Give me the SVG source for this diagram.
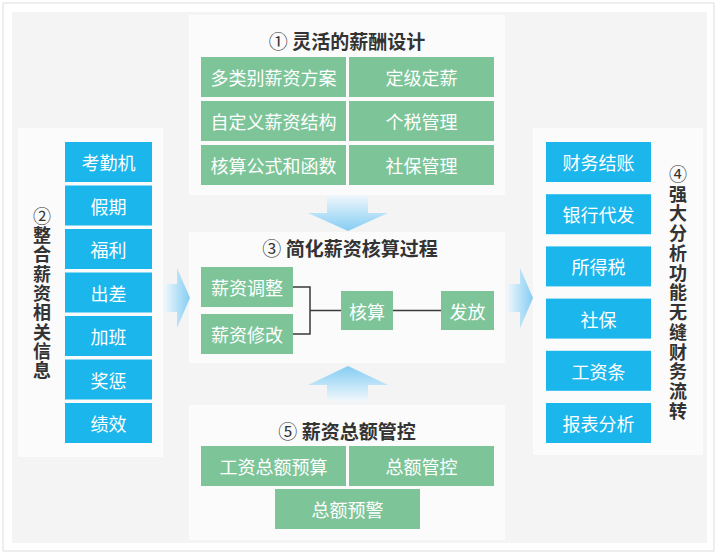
<svg xmlns="http://www.w3.org/2000/svg" width="720" height="557" viewBox="0 0 720 557">
<defs>
<style>
text{font-family:"Noto Sans CJK SC","Noto Sans",sans-serif;dominant-baseline:central;text-anchor:middle}
.panel{fill:#fbfbfb}
.g{fill:#7dc599}
.b{fill:#1bb6ec}
.ct{fill:#ffffff;font-size:18px}
.tt{fill:#333333;font-size:19px;font-weight:bold}
.num{font-weight:normal}
.vt{fill:#333333;font-size:18px;font-weight:bold;writing-mode:vertical-rl;text-orientation:upright;text-anchor:start}
.ln{stroke:#3a3a3a;stroke-width:1.5;fill:none}
</style>
<linearGradient id="gDown" x1="0" y1="0" x2="0" y2="1">
<stop offset="0" stop-color="#f0f7fc"/>
<stop offset="1" stop-color="#84cdf3"/>
</linearGradient>
<linearGradient id="gUp" x1="0" y1="1" x2="0" y2="0">
<stop offset="0" stop-color="#f0f7fc"/>
<stop offset="1" stop-color="#84cdf3"/>
</linearGradient>
<linearGradient id="gRight" x1="0" y1="0" x2="1" y2="0">
<stop offset="0" stop-color="#f0f7fc"/>
<stop offset="1" stop-color="#84cdf3"/>
</linearGradient>
</defs>
<rect x="3" y="3" width="711" height="548" fill="#ffffff" stroke="#dddddd" stroke-width="1"/>
<rect x="12" y="12" width="695" height="531" fill="#f4f4f4"/>

<g id="panel1">
<rect class="panel" x="189" y="15" width="316" height="180"/>
<text class="tt" x="347" y="40"><tspan class="num">①</tspan> 灵活的薪酬设计</text>
<g id="p1-1"><rect class="g" x="201" y="57" width="145" height="40"/><text class="ct" x="273.5" y="77">多类别薪资方案</text></g>
<g id="p1-2"><rect class="g" x="349" y="57" width="145" height="40"/><text class="ct" x="421.5" y="77">定级定薪</text></g>
<g id="p1-3"><rect class="g" x="201" y="101" width="145" height="40"/><text class="ct" x="273.5" y="121">自定义薪资结构</text></g>
<g id="p1-4"><rect class="g" x="349" y="101" width="145" height="40"/><text class="ct" x="421.5" y="121">个税管理</text></g>
<g id="p1-5"><rect class="g" x="201" y="145" width="145" height="40"/><text class="ct" x="273.5" y="165">核算公式和函数</text></g>
<g id="p1-6"><rect class="g" x="349" y="145" width="145" height="40"/><text class="ct" x="421.5" y="165">社保管理</text></g>
</g>

<g id="panel2">
<rect class="panel" x="18" y="128" width="145" height="329"/>
<text class="vt" x="42" y="207" letter-spacing="1.3"><tspan class="num">②</tspan>整合薪资相关信息</text>
<g id="p2-1"><rect class="b" x="65" y="142" width="87" height="40"/><text class="ct" x="108.5" y="162">考勤机</text></g>
<g id="p2-2"><rect class="b" x="65" y="185.5" width="87" height="40"/><text class="ct" x="108.5" y="205.5">假期</text></g>
<g id="p2-3"><rect class="b" x="65" y="229" width="87" height="40"/><text class="ct" x="108.5" y="249">福利</text></g>
<g id="p2-4"><rect class="b" x="65" y="272.5" width="87" height="40"/><text class="ct" x="108.5" y="292.5">出差</text></g>
<g id="p2-5"><rect class="b" x="65" y="316" width="87" height="40"/><text class="ct" x="108.5" y="336">加班</text></g>
<g id="p2-6"><rect class="b" x="65" y="359.5" width="87" height="40"/><text class="ct" x="108.5" y="379.5">奖惩</text></g>
<g id="p2-7"><rect class="b" x="65" y="403" width="87" height="40"/><text class="ct" x="108.5" y="423">绩效</text></g>
</g>

<g id="panel3">
<rect class="panel" x="189" y="232" width="316" height="131"/>
<text class="tt" x="350" y="247"><tspan class="num">③</tspan> 简化薪资核算过程</text>
<g id="p3-1"><rect class="g" x="201" y="267" width="92" height="40"/><text class="ct" x="247" y="287">薪资调整</text></g>
<g id="p3-2"><rect class="g" x="201" y="314" width="92" height="40"/><text class="ct" x="247" y="334">薪资修改</text></g>
<g id="p3-3"><rect class="g" x="341" y="291" width="52" height="39"/><text class="ct" x="367" y="310.5">核算</text></g>
<g id="p3-4"><rect class="g" x="441" y="291" width="53" height="39"/><text class="ct" x="467.5" y="310.5">发放</text></g>
</g>

<g id="panel4">
<rect class="panel" x="533" y="128" width="170" height="327"/>
<text class="vt" x="678" y="165" letter-spacing="1.75"><tspan class="num">④</tspan>强大分析功能无缝财务流转</text>
<g id="p4-1"><rect class="b" x="546" y="142" width="105" height="40"/><text class="ct" x="598.5" y="162">财务结账</text></g>
<g id="p4-2"><rect class="b" x="546" y="194.2" width="105" height="40"/><text class="ct" x="598.5" y="214.2">银行代发</text></g>
<g id="p4-3"><rect class="b" x="546" y="246.4" width="105" height="40"/><text class="ct" x="598.5" y="266.4">所得税</text></g>
<g id="p4-4"><rect class="b" x="546" y="298.6" width="105" height="40"/><text class="ct" x="598.5" y="318.6">社保</text></g>
<g id="p4-5"><rect class="b" x="546" y="350.8" width="105" height="40"/><text class="ct" x="598.5" y="370.8">工资条</text></g>
<g id="p4-6"><rect class="b" x="546" y="403" width="105" height="40"/><text class="ct" x="598.5" y="423">报表分析</text></g>
</g>

<g id="panel5">
<rect class="panel" x="189" y="405" width="316" height="135"/>
<text class="tt" x="347" y="430"><tspan class="num">⑤</tspan> 薪资总额管控</text>
<g id="p5-1"><rect class="g" x="201" y="446" width="145" height="40"/><text class="ct" x="273.5" y="466">工资总额预算</text></g>
<g id="p5-2"><rect class="g" x="349" y="446" width="145" height="40"/><text class="ct" x="421.5" y="466">总额管控</text></g>
<g id="p5-3"><rect class="g" x="275" y="489" width="145" height="40"/><text class="ct" x="347.5" y="509">总额预警</text></g>
</g>

<g id="connectors">
<path d="M327 195 H368 V213 H388 L348 231 L308 213 H327 Z" fill="url(#gDown)"/>
<path d="M327 401 H368 V385 H388 L348 366 L308 385 H327 Z" fill="url(#gUp)"/>
<path d="M164 284 H177 V268 L190 298 L177 328 V312 H164 Z" fill="url(#gRight)"/>
<path d="M507 284 H520 V268 L533 298 L520 328 V312 H507 Z" fill="url(#gRight)"/>
<path class="ln" d="M293 287 H310 V334 H293"/>
<path class="ln" d="M310 310.5 H341"/>
<path class="ln" d="M393 310.5 H441"/>
</g>
</svg>
